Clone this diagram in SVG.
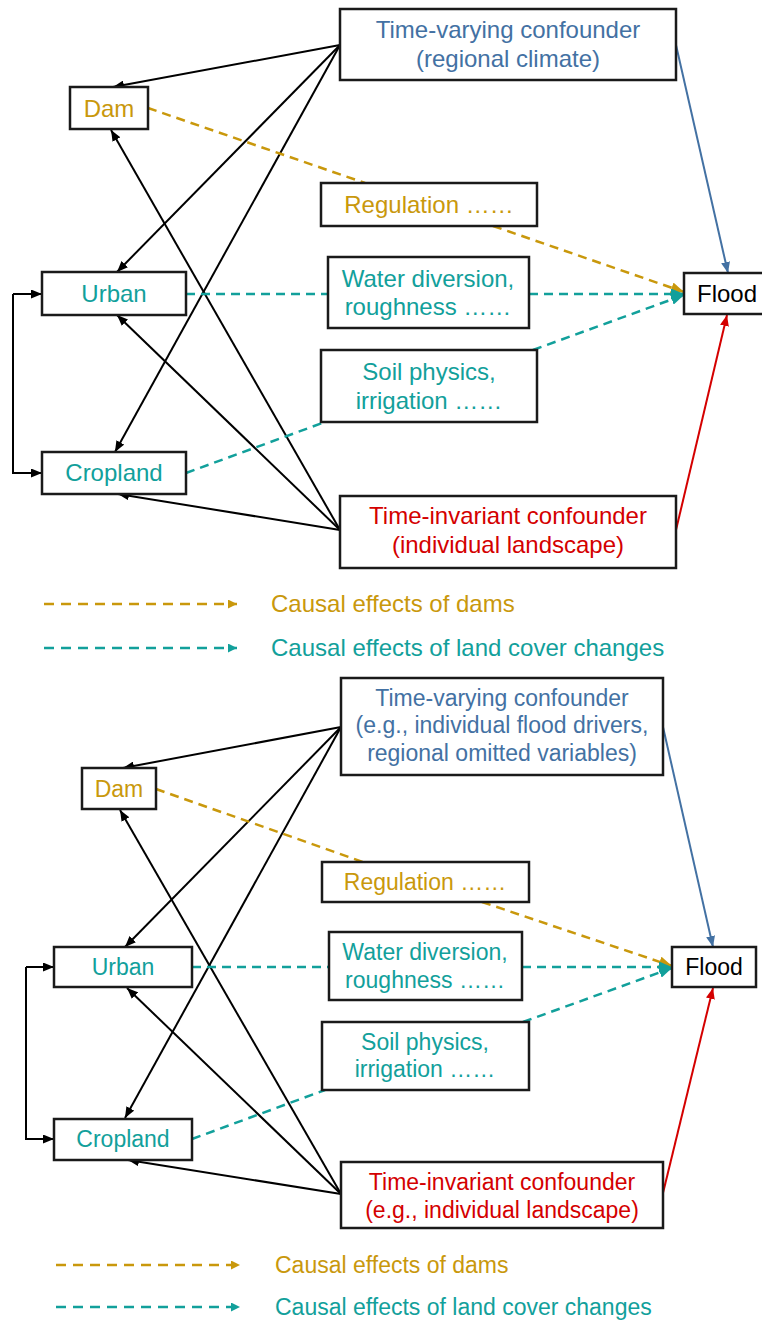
<svg xmlns="http://www.w3.org/2000/svg" width="762" height="1336" viewBox="0 0 762 1336">
<style>
.box{fill:#fff;stroke:#1a1a1a;stroke-width:2.5}
.t{font-family:"Liberation Sans",Arial,sans-serif;font-size:24px;text-anchor:middle}
.s{font-size:23px}
.blue{fill:#4371A3}.gold{fill:#C9980C}.teal{fill:#12A09B}.red{fill:#D40000}.blk{fill:#000}
.bl{stroke:#000;stroke-width:2;fill:none;marker-end:url(#ab)}
.bu{stroke:#4371A3;stroke-width:2;fill:none;marker-end:url(#au)}
.rd{stroke:#D40000;stroke-width:2;fill:none;marker-end:url(#ar)}
.gd{stroke:#C9980C;stroke-width:2.5;fill:none;stroke-dasharray:9 6}
.td{stroke:#12A09B;stroke-width:2.5;fill:none;stroke-dasharray:9 6}
.lg{stroke-dasharray:10 7}
</style>
<defs>
<marker id="ab" markerUnits="userSpaceOnUse" markerWidth="11" markerHeight="9" refX="11" refY="4.5" orient="auto"><path d="M0,0 L11,4.5 L0,9 z" fill="#000"/></marker>
<marker id="au" markerUnits="userSpaceOnUse" markerWidth="11" markerHeight="9" refX="11" refY="4.5" orient="auto"><path d="M0,0 L11,4.5 L0,9 z" fill="#4371A3"/></marker>
<marker id="ar" markerUnits="userSpaceOnUse" markerWidth="11" markerHeight="9" refX="11" refY="4.5" orient="auto"><path d="M0,0 L11,4.5 L0,9 z" fill="#D40000"/></marker>
<marker id="ag" markerUnits="userSpaceOnUse" markerWidth="13" markerHeight="11" refX="13" refY="5.5" orient="auto"><path d="M0,0 L13,5.5 L0,11 z" fill="#C9980C"/></marker>
<marker id="at" markerUnits="userSpaceOnUse" markerWidth="13" markerHeight="11" refX="13" refY="5.5" orient="auto"><path d="M0,0 L13,5.5 L0,11 z" fill="#12A09B"/></marker>
<marker id="lgm" markerUnits="userSpaceOnUse" markerWidth="9" markerHeight="9" refX="9" refY="4.5" orient="auto"><path d="M0,0 L9,4.5 L0,9 z" fill="#C9980C"/></marker>
<marker id="ltm" markerUnits="userSpaceOnUse" markerWidth="9" markerHeight="9" refX="9" refY="4.5" orient="auto"><path d="M0,0 L9,4.5 L0,9 z" fill="#12A09B"/></marker>
</defs>

<g id="connectors">
<!-- top panel -->
<path class="bl" d="M340,45 L113,87"/>
<path class="bl" d="M340,45 L117,272"/>
<path class="bl" d="M340,45 L115,452"/>
<path class="bl" d="M340,530 L111,130"/>
<path class="bl" d="M340,530 L117,315"/>
<path class="bl" d="M340,530 L118,494"/>
<path class="bl" d="M13,294 H42"/>
<path class="bl" d="M13,294 V473 H42"/>
<path class="bu" d="M676,45 L728,273"/>
<path class="rd" d="M676,530 L727,315"/>
<path class="gd" d="M148,108 L365,183"/>
<path class="gd" d="M493,226 L684,292" marker-end="url(#ag)"/>
<path class="td" d="M186,294 L328,294"/>
<path class="td" d="M529,294 L684,294" marker-end="url(#at)"/>
<path class="td" d="M186,473 L325,422"/>
<path class="td" d="M533,350 L684,295" marker-end="url(#at)"/>
<!-- bottom panel -->
<path class="bl" d="M341,727 L123,768"/>
<path class="bl" d="M341,727 L125,947"/>
<path class="bl" d="M341,727 L125,1118"/>
<path class="bl" d="M341,1194 L120,810"/>
<path class="bl" d="M341,1194 L127,988"/>
<path class="bl" d="M341,1194 L128,1160"/>
<path class="bl" d="M26,967 H54"/>
<path class="bl" d="M26,967 V1139 H54"/>
<path class="bu" d="M663,727 L713,947"/>
<path class="rd" d="M663,1193 L713,988"/>
<path class="gd" d="M156,789 L363,862"/>
<path class="gd" d="M482,902 L672,966" marker-end="url(#ag)"/>
<path class="td" d="M192,967 L329,967"/>
<path class="td" d="M522,967 L672,967" marker-end="url(#at)"/>
<path class="td" d="M192,1139 L325,1090"/>
<path class="td" d="M523,1022 L672,968" marker-end="url(#at)"/>
</g>

<g id="tv1"><rect class="box" x="340" y="9" width="336" height="71"/><text class="t blue" x="508" y="38">Time-varying confounder</text><text class="t blue" x="508" y="67">(regional climate)</text></g>
<g id="dam1"><rect class="box" x="70" y="87" width="78" height="42"/><text class="t gold" x="109" y="117">Dam</text></g>
<g id="urban1"><rect class="box" x="42" y="272" width="144" height="43"/><text class="t teal" x="114" y="302">Urban</text></g>
<g id="cropland1"><rect class="box" x="42" y="452" width="144" height="42"/><text class="t teal" x="114" y="481">Cropland</text></g>
<g id="regulation1"><rect class="box" x="321" y="183" width="216" height="43"/><text class="t gold" x="429" y="213">Regulation ……</text></g>
<g id="water1"><rect class="box" x="328" y="257" width="201" height="71"/><text class="t teal" x="428" y="287">Water diversion,</text><text class="t teal" x="428" y="315">roughness ……</text></g>
<g id="soil1"><rect class="box" x="321" y="350" width="216" height="72"/><text class="t teal" x="429" y="380">Soil physics,</text><text class="t teal" x="429" y="409">irrigation ……</text></g>
<g id="ti1"><rect class="box" x="340" y="496" width="336" height="72"/><text class="t red" x="508" y="524">Time-invariant confounder</text><text class="t red" x="508" y="553">(individual landscape)</text></g>
<g id="flood1"><rect class="box" x="684" y="273" width="80" height="41"/><text class="t blk" x="697" y="302" style="text-anchor:start">Flood</text></g>

<g id="legend1">
<path class="gd lg" d="M44,604 H237" marker-end="url(#lgm)"/>
<text class="t gold" x="271" y="612" style="text-anchor:start">Causal effects of dams</text>
<path class="td lg" d="M44,648 H237" marker-end="url(#ltm)"/>
<text class="t teal" x="271" y="656" style="text-anchor:start">Causal effects of land cover changes</text>
</g>

<g id="tv2"><rect class="box" x="341" y="678" width="322" height="97"/><text class="t s blue" x="502" y="706">Time-varying confounder</text><text class="t s blue" x="502" y="733">(e.g., individual flood drivers,</text><text class="t s blue" x="502" y="761">regional omitted variables)</text></g>
<g id="dam2"><rect class="box" x="82" y="768" width="74" height="41"/><text class="t s gold" x="119" y="797">Dam</text></g>
<g id="urban2"><rect class="box" x="54" y="947" width="138" height="40"/><text class="t s teal" x="123" y="975">Urban</text></g>
<g id="cropland2"><rect class="box" x="54" y="1119" width="138" height="41"/><text class="t s teal" x="123" y="1147">Cropland</text></g>
<g id="regulation2"><rect class="box" x="322" y="862" width="207" height="40"/><text class="t s gold" x="425" y="890">Regulation ……</text></g>
<g id="water2"><rect class="box" x="329" y="932" width="193" height="68"/><text class="t s teal" x="425" y="960">Water diversion,</text><text class="t s teal" x="425" y="988">roughness ……</text></g>
<g id="soil2"><rect class="box" x="322" y="1022" width="207" height="68"/><text class="t s teal" x="425" y="1050">Soil physics,</text><text class="t s teal" x="425" y="1077">irrigation ……</text></g>
<g id="ti2"><rect class="box" x="341" y="1162" width="322" height="66"/><text class="t s red" x="502" y="1190">Time-invariant confounder</text><text class="t s red" x="502" y="1218">(e.g., individual landscape)</text></g>
<g id="flood2"><rect class="box" x="672" y="947" width="84" height="40"/><text class="t s blk" x="714" y="975">Flood</text></g>

<g id="legend2">
<path class="gd lg" d="M56,1265 H240" marker-end="url(#lgm)"/>
<text class="t s gold" x="275" y="1273" style="text-anchor:start">Causal effects of dams</text>
<path class="td lg" d="M56,1307 H240" marker-end="url(#ltm)"/>
<text class="t s teal" x="275" y="1315" style="text-anchor:start">Causal effects of land cover changes</text>
</g>
</svg>
